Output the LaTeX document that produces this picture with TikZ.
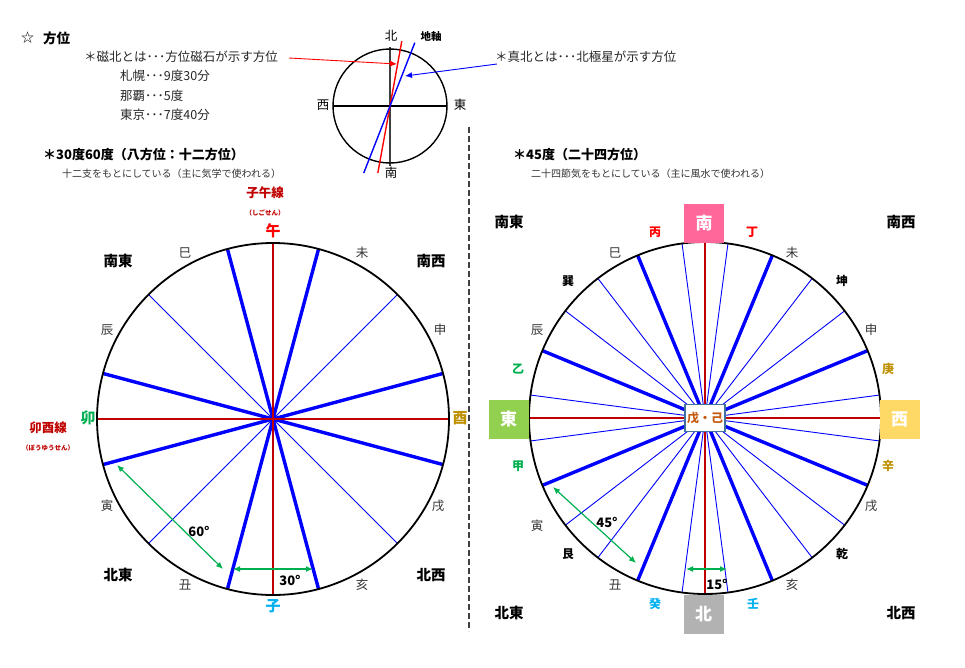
\documentclass[tikz,border=0pt]{standalone}
\usepackage{fontspec}
\setmainfont{Noto Sans CJK JP}
\usetikzlibrary{arrows.meta}
\definecolor{ShiRed}{HTML}{C00000}
\definecolor{KiGreen}{HTML}{00B050}
\definecolor{KinGold}{HTML}{BF9000}
\definecolor{SuiCyan}{HTML}{00B0F0}
\definecolor{MinamiPink}{HTML}{FF6699}
\definecolor{HigashiGreen}{HTML}{92D050}
\definecolor{NishiYellow}{HTML}{FFD966}
\definecolor{DoOrange}{HTML}{C55A11}
\definecolor{DoEdge}{HTML}{41719C}

\begin{document}
\begin{tikzpicture}[x=1pt,y=-1pt,>={Latex[length=7pt,width=6pt]},
  every node/.style={inner sep=0pt},
  heading/.style={anchor=west,font=\fontsize{13}{15}\selectfont\bfseries},
  body/.style={anchor=west,font=\fontsize{12.5}{14}\selectfont,text=black!85},
  note/.style={anchor=west,font=\fontsize{10}{12}\selectfont,text=black!80},
  stem/.style={font=\fontsize{12.5}{14}\selectfont,text=black!80},
  stemb/.style={font=\fontsize{12}{14}\selectfont\bfseries},
  shib/.style={font=\fontsize{15}{17}\selectfont\bfseries},
  corner/.style={font=\fontsize{14.5}{16}\selectfont\bfseries},
  senname/.style={font=\fontsize{12.5}{14}\selectfont\bfseries,text=ShiRed},
  senyomi/.style={font=\fontsize{6.5}{8}\selectfont\bfseries,text=ShiRed},
  dirbox/.style={minimum width=40pt,minimum height=39pt,text=white,font=\fontsize{17}{19}\selectfont\bfseries},
  thickdiv/.style={blue,line width=3.4pt},
  thindiv/.style={blue,line width=0.9pt},
  meridian/.style={ShiRed,line width=2pt},
  rim/.style={line width=1.8pt},
  angarrow/.style={<->,KiGreen,line width=1.2pt},
  deg/.style={font=\fontsize{13}{15}\selectfont\bfseries}]
  \useasboundingbox (0,0) rectangle (965,667);

  \node[anchor=west,font=\fontsize{13}{15}\selectfont] (star) at (21,38) {☆};
  \node[heading,font=\fontsize{13.5}{15}\selectfont\bfseries] (hoi) at (43,38) {方位};
  \node[body] (jihoku) at (84,57) {＊磁北とは･･･方位磁石が示す方位};
  \node[body] (sapporo) at (120,76) {札幌･･･9度30分};
  \node[body] (naha) at (120,96) {那覇･･･5度};
  \node[body] (tokyo) at (120,115) {東京･･･7度40分};
  \node[body] (shinpoku) at (495,57) {＊真北とは･･･北極星が示す方位};

  \coordinate (C) at (390,106);
  \draw[line width=1.6pt,black!75] (C) ++(0,-59) -- ++(0,119);
  \draw[line width=1.3pt] (C) ++(-57,0) -- ++(114,0);
  \draw[rim,line width=1.4pt] (C) circle[radius=57pt];
  \draw[red,line width=1.4pt] (C) ++(-79.7:66) -- ++(100.3:134);
  \draw[blue,line width=1.4pt] (C) ++(-68.6:68) -- ++(111.4:140);
  \node[stem,text=black] (ckita) at (391,36) {北};
  \node[stem,text=black] (cminami) at (391,173) {南};
  \node[stem,text=black] (cnishi) at (323,105) {西};
  \node[stem,text=black] (chigashi) at (460,105) {東};
  \node[font=\fontsize{10.5}{12}\selectfont\bfseries] (chijiku) at (431,37) {地軸};
  \coordinate (magtip) at (397,64);
  \coordinate (truetip) at (405,76);
  \draw[->,red,line width=0.9pt] ([xshift=11pt,yshift=-1pt]jihoku.east) -- (magtip);
  \draw[->,blue,line width=0.9pt] ([xshift=2pt,yshift=-7pt]shinpoku.west) -- (truetip);

  \draw[black!75,line width=1.3pt,dash pattern=on 6pt off 3pt] (469,127) -- (469,631);

  \node[heading] (lhead) at (43,155) {＊30度60度（八方位：十二方位）};
  \node[note] (lnote) at (62,174) {十二支をもとにしている（主に気学で使われる）};
  \node[heading] (rhead) at (513,155) {＊45度（二十四方位）};
  \node[note] (rnote) at (531,174) {二十四節気をもとにしている（主に風水で使われる）};

  \coordinate (L) at (273,419);
  \foreach \a in {45,135} \draw[thindiv] (L) ++(\a:176) -- ++(\a+180:352);
  \foreach \a in {15,75,105,165} \draw[thickdiv] (L) ++(\a:176) -- ++(\a+180:352);
  \draw[meridian] (L) ++(0,-176) -- ++(0,352) (L) ++(-176,0) -- ++(352,0);
  \draw[rim] (L) circle[radius=176pt];

  \node[senname] (shigosen) at (265,193) {子午線};
  \node[senyomi] (shigoyomi) at (265,213) {（しごせん）};
  \node[senname] (boyusen) at (48,428) {卯酉線};
  \node[senyomi] (boyuyomi) at (48,448) {（ぼうゆうせん）};

  \node[shib,text=red] (lUma) at (273,231) {午};
  \node[stem] (lHitsuji) at (362,253) {未};
  \node[stem] (lSaru) at (440,330) {申};
  \node[shib,text=KinGold] (lTori) at (460,418) {酉};
  \node[stem] (lInu) at (438,506) {戌};
  \node[stem] (lI) at (362,585) {亥};
  \node[shib,text=SuiCyan] (lNe) at (273,606) {子};
  \node[stem] (lUshi) at (185,585) {丑};
  \node[stem] (lTora) at (107,506) {寅};
  \node[shib,text=KiGreen] (lU) at (88,418) {卯};
  \node[stem] (lTatsu) at (107,330) {辰};
  \node[stem] (lMi) at (185,253) {巳};

  \node[corner] (lSE) at (118,261) {南東};
  \node[corner] (lSW) at (431,261) {南西};
  \node[corner] (lNE) at (118,575) {北東};
  \node[corner] (lNW) at (431,575) {北西};

  \coordinate (l60a) at (117,465);
  \coordinate (l60b) at (223,569);
  \coordinate (l30a) at (233,569);
  \coordinate (l30b) at (313,569);
  \draw[angarrow] (l60a) -- (l60b);
  \draw[angarrow] (l30a) -- (l30b);
  \node[deg] (l60) at (199,531) {60°};
  \node[deg] (l30) at (290,580) {30°};

  \coordinate (R) at (705,418);
  \foreach \a in {7.5,37.5,52.5,82.5,97.5,127.5,142.5,172.5}
    \draw[thindiv] (R) ++(\a:176) -- ++(\a+180:352);
  \foreach \a in {22.5,67.5,112.5,157.5} \draw[thickdiv] (R) ++(\a:176) -- ++(\a+180:352);
  \draw[meridian] (R) ++(0,-176) -- ++(0,352) (R) ++(-177,0) -- ++(354,0);
  \draw[rim] (R) circle[radius=176pt];
  \node[draw=DoEdge,fill=white,line width=1.2pt,minimum width=40pt,minimum height=27pt,
    text=DoOrange,font=\fontsize{12}{14}\selectfont\bfseries] (chuo) at (R) {戊・己};

  \node[dirbox,fill=MinamiPink] (minami) at (704,223.5) {南};
  \node[dirbox,fill=HigashiGreen] (higashi) at (508.5,419.5) {東};
  \node[dirbox,fill=NishiYellow] (nishi) at (899.5,419.5) {西};
  \node[dirbox,fill=black!30] (kita) at (703.5,614.5) {北};

  \node[stemb,text=red] (rHinoe) at (655,232) {丙};
  \node[stemb,text=red] (rHinoto) at (752,232) {丁};
  \node[stem] (rMi) at (615,253) {巳};
  \node[stem] (rHitsuji) at (792,253) {未};
  \node[stemb] (rTatsumi) at (568,281) {巽};
  \node[stemb] (rHitsujisaru) at (842,281) {坤};
  \node[stem] (rTatsu) at (537,330) {辰};
  \node[stem] (rSaru) at (871,330) {申};
  \node[stemb,text=KiGreen] (rKinoto) at (518,369) {乙};
  \node[stemb,text=KinGold] (rKanoe) at (888,369) {庚};
  \node[stemb,text=KiGreen] (rKinoe) at (518,466) {甲};
  \node[stemb,text=KinGold] (rKanoto) at (888,466) {辛};
  \node[stem] (rTora) at (537,526) {寅};
  \node[stem] (rInu) at (871,506) {戌};
  \node[stemb] (rUshitora) at (568,554) {艮};
  \node[stemb] (rInui) at (842,554) {乾};
  \node[stem] (rUshi) at (615,585) {丑};
  \node[stem] (rI) at (792,585) {亥};
  \node[stemb,text=SuiCyan] (rMizunoto) at (655,604) {癸};
  \node[stemb,text=SuiCyan] (rMizunoe) at (753,604) {壬};

  \node[corner] (rSE) at (509,222) {南東};
  \node[corner] (rSW) at (901,222) {南西};
  \node[corner] (rNE) at (509,613) {北東};
  \node[corner] (rNW) at (901,613) {北西};

  \coordinate (r45a) at (553,487);
  \coordinate (r45b) at (636,563);
  \coordinate (r15a) at (686,569);
  \coordinate (r15b) at (727,569);
  \draw[angarrow] (r45a) -- (r45b);
  \draw[angarrow] (r15a) -- (r15b);
  \node[deg] (r45) at (607,522) {45°};
  \node[deg] (r15) at (717,584) {15°};
\end{tikzpicture}
\end{document}
